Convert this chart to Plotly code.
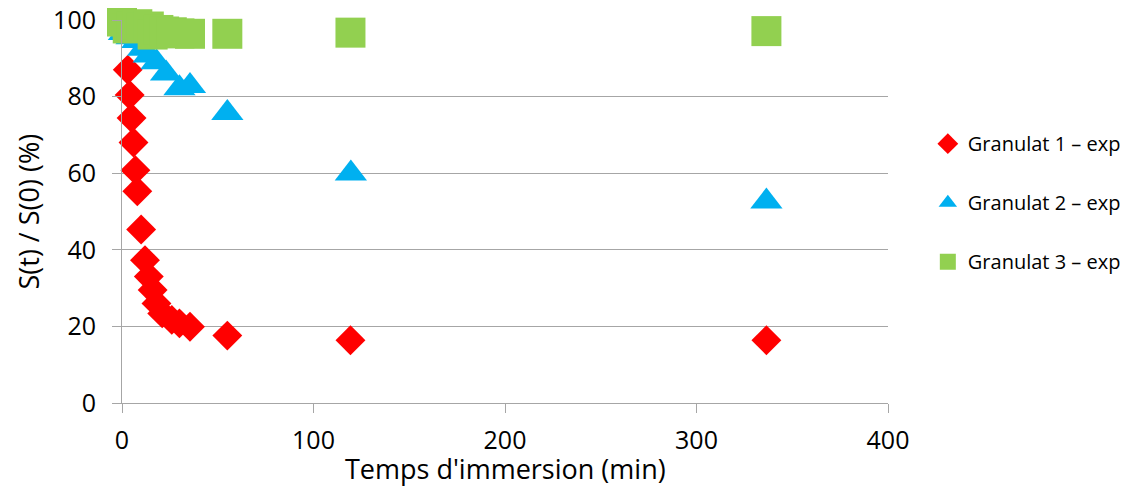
import plotly.graph_objects as go

# Granulat 1 (red diamonds)
g1_time = [3, 4, 5, 6, 7, 8, 10, 12, 14, 16, 18, 21, 26, 30, 35.5, 55, 119.3, 336.5]
g1_ratio = [87, 80.4, 74.4, 68, 60.8, 55.3, 45.3, 37.3, 33, 29.5, 26, 23.4, 21.7, 20.8, 19.9, 17.6, 16.4, 16.4]

# Granulat 2 (blue triangles)
g2_time = [1, 5, 8, 11, 14, 18, 23, 30, 35.5, 55, 119.5, 336.5]
g2_ratio = [96.6, 95.5, 94.5, 92.5, 90.7, 89, 86, 82.2, 82.8, 75.7, 59.9, 52.6]

# Granulat 3 (green squares)
g3_time = [0, 3, 5, 8, 10, 14, 16, 19, 22, 26, 30, 35.5, 55, 119.3, 336.5]
g3_ratio = [99.6, 97.8, 98.4, 98.9, 98, 98.3, 96.2, 97.4, 97, 96.8, 96.5, 96.4, 96.4, 96.7, 97.1]

series_names = ["Granulat 1 \u2013 exp", "Granulat 2 \u2013 exp", "Granulat 3 \u2013 exp"]
x_ticks = [0, 100, 200, 300, 400]
y_ticks = [0, 20, 40, 60, 80, 100]
x_title = "Temps d'immersion (min)"
y_title = "S(t) / S(0) (%)"

FONT = "Open Sans, Noto Sans, DejaVu Sans, sans-serif"

fig = go.Figure()
fig.add_trace(go.Scatter(x=g1_time, y=g1_ratio, mode="markers", name=series_names[0],
                         legendgroup="g1", cliponaxis=False,
                         marker=dict(symbol="diamond", size=23, color="#FF0000", line=dict(width=0))))
fig.add_trace(go.Scatter(x=g2_time, y=g2_ratio, mode="markers", name=series_names[1],
                         legendgroup="g2", cliponaxis=False,
                         marker=dict(symbol="triangle-up", size=28, color="#00B0F0", line=dict(width=0))))
fig.add_trace(go.Scatter(x=g3_time, y=g3_ratio, mode="markers", name=series_names[2],
                         legendgroup="g3", cliponaxis=False,
                         marker=dict(symbol="square", size=30, color="#92D050", line=dict(width=0))))

fig.update_layout(
    width=1134, height=488,
    margin=dict(l=114, r=254, t=12, b=93, autoexpand=False),
    paper_bgcolor="white", plot_bgcolor="white",
    font=dict(family=FONT, color="#000000"),
    legend=dict(x=1.052, y=0.728, xanchor="left", yanchor="top",
                font=dict(size=20, family=FONT), tracegroupgap=30,
                bgcolor="rgba(0,0,0,0)"),
    xaxis=dict(range=[0, 400], tickvals=x_ticks, showgrid=False, zeroline=False, automargin=False,
               showline=True, linecolor="#a6a6a6", linewidth=1, ticklabeloverflow="allow",
               ticks="outside", ticklen=9, tickcolor="#a6a6a6", ticklabelstandoff=6,
               tickfont=dict(size=25)),
    yaxis=dict(range=[0, 100], tickvals=y_ticks, showgrid=True, gridcolor="#a6a6a6", gridwidth=1,
               zeroline=False, showline=True, linecolor="#a6a6a6", linewidth=1, automargin=False,
               ticklabeloverflow="allow", ticklabelstandoff=11,
               ticks="outside", ticklen=9, tickcolor="#a6a6a6",
               tickfont=dict(size=25)),
    annotations=[
        dict(text=x_title, xref="paper", yref="paper", x=0.5, y=-0.170,
             xanchor="center", yanchor="middle", showarrow=False, font=dict(size=27)),
        dict(text=y_title, xref="paper", yref="paper", x=-0.1227, y=0.5, textangle=-90,
             xanchor="center", yanchor="middle", showarrow=False, font=dict(size=27)),
    ],
)

fig.write_html("out.html")
